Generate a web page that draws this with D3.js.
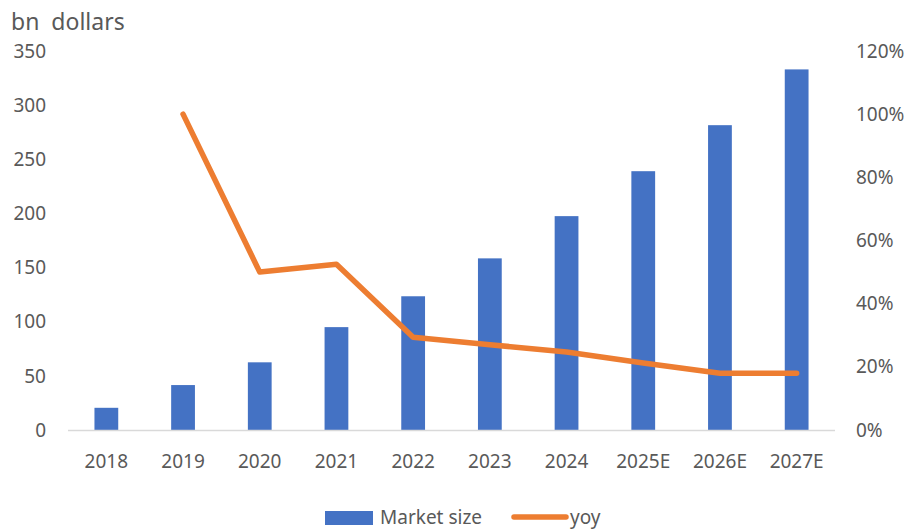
<!DOCTYPE html>
<html><head><meta charset="utf-8">
<script src="https://cdn.jsdelivr.net/npm/d3@7"></script>
<style>body{margin:0;background:#fff}svg{display:block}text{font-family:"Segoe UI","Noto Sans","Open Sans",sans-serif;fill:#595959}</style>
</head><body>
<svg id="c" width="912" height="529"></svg>
<script>
const categories = ["2018","2019","2020","2021","2022","2023","2024","2025E","2026E","2027E"];
const marketSize = [20.5,41.5,62.5,95,123.5,158.5,197.5,239,281.5,333];
const yoy = [null,1.00,0.50,0.525,0.294,0.27,0.247,0.212,0.18,0.18];
const leftTicks = [0,50,100,150,200,250,300,350];
const rightTicks = [0,0.2,0.4,0.6,0.8,1.0,1.2];

const svg = d3.select("#c");
const L = 68, R = 835, T = 51, B = 430;
const x = d3.scaleBand().domain(categories).range([L, R]).paddingInner(0.69).paddingOuter(0.345);
const yL = d3.scaleLinear().domain([0,350]).range([B,T]);
const yR = d3.scaleLinear().domain([0,1.2]).range([B,T]);

svg.append("text").attr("x",11).attr("y",30).attr("font-size",23).style("white-space","pre").text("bn  dollars");

svg.append("g").selectAll("text").data(leftTicks).join("text")
  .attr("x",46).attr("y",d=>yL(d)).attr("dy","0.35em").attr("text-anchor","end").attr("font-size",19).text(d=>d);
svg.append("g").selectAll("text").data(rightTicks).join("text")
  .attr("x",856).attr("y",d=>yR(d)).attr("dy","0.35em").attr("text-anchor","start").attr("font-size",19).text(d=>d3.format(".0%")(d));

svg.append("g").selectAll("rect").data(categories).join("rect")
  .attr("x",d=>x(d)).attr("width",x.bandwidth())
  .attr("y",(d,i)=>yL(marketSize[i])).attr("height",(d,i)=>B-yL(marketSize[i]))
  .attr("fill","#4472c4");

svg.append("line").attr("x1",L).attr("x2",R).attr("y1",B+0.5).attr("y2",B+0.5).attr("stroke","#d9d9d9").attr("stroke-width",1.3);

svg.append("g").selectAll("text").data(categories).join("text")
  .attr("x",d=>x(d)+x.bandwidth()/2).attr("y",461).attr("dy","0.35em").attr("text-anchor","middle").attr("font-size",19).text(d=>d);

const line = d3.line().defined(d=>d.v!=null).x(d=>x(d.c)+x.bandwidth()/2).y(d=>yR(d.v));
svg.append("path").datum(categories.map((c,i)=>({c,v:yoy[i]})))
  .attr("d",line).attr("fill","none").attr("stroke","#ed7d31").attr("stroke-width",5.5)
  .attr("stroke-linejoin","round").attr("stroke-linecap","round");

// legend
svg.append("rect").attr("x",325).attr("y",511).attr("width",48).attr("height",14).attr("fill","#4472c4");
svg.append("text").attr("x",380).attr("y",517).attr("dy","0.35em").attr("font-size",19).text("Market size");
svg.append("line").attr("x1",514).attr("x2",566).attr("y1",517).attr("y2",517).attr("stroke","#ed7d31").attr("stroke-width",5.5).attr("stroke-linecap","round");
svg.append("text").attr("x",570).attr("y",517).attr("dy","0.35em").attr("font-size",19).text("yoy");
</script>
</body></html>
